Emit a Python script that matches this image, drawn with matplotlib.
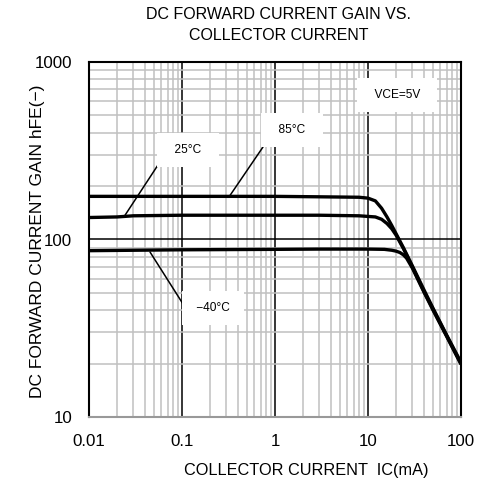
import matplotlib
matplotlib.use("Agg")
import matplotlib.pyplot as plt
from matplotlib.ticker import LogLocator, FixedLocator, NullFormatter, FixedFormatter

plt.rcParams['font.family'] = ['Liberation Sans', 'DejaVu Sans']

# ---- data ----
ic_85 = [0.01, 0.03, 0.1, 0.3, 1, 3, 8, 10, 12, 14, 16, 18, 20, 24, 30, 40, 50, 70, 100]
hfe_85 = [175, 175, 175, 175, 175, 174, 173, 171, 165, 150, 134, 120, 108, 90, 71, 52, 41, 29, 20.3]

ic_25 = [0.01, 0.02, 0.03, 0.1, 0.3, 1, 3, 8, 12, 14, 16, 18, 20, 24, 30, 40, 50, 70, 100]
hfe_25 = [133, 134, 136, 137, 137, 137, 137, 136, 134, 130, 123, 115, 106, 89, 70, 51, 40.5, 28.7, 20]

ic_m40 = [0.01, 0.1, 1, 3, 10, 15, 18, 20, 22, 24, 26, 30, 40, 50, 70, 100]
hfe_m40 = [86.5, 87.5, 88, 88.3, 88.3, 88, 87, 86, 84.5, 82, 78.5, 69, 50.5, 40, 28.5, 19.8]

series_labels = ["85°C", "25°C", "−40°C"]
condition_label = "VCE=5V"

title = "DC FORWARD CURRENT GAIN VS.\nCOLLECTOR CURRENT"
xlabel = "COLLECTOR CURRENT  IC(mA)"
ylabel = "DC FORWARD CURRENT GAIN hFE(−)"

xticks = [0.01, 0.1, 1, 10, 100]
xticklabels = ["0.01", "0.1", "1", "10", "100"]
yticks = [10, 100, 1000]
yticklabels = ["10", "100", "1000"]

# ---- figure ----
fig = plt.figure(figsize=(4.8, 4.9), dpi=100)
ax = fig.add_axes([89/480, 1-417/490, 372/480, 355/490])
ax.set_xscale('log')
ax.set_yscale('log')
ax.set_xlim(0.01, 100)
ax.set_ylim(10, 1000)

ax.xaxis.set_major_locator(FixedLocator(xticks))
ax.xaxis.set_major_formatter(FixedFormatter(xticklabels))
ax.yaxis.set_major_locator(FixedLocator(yticks))
ax.yaxis.set_major_formatter(FixedFormatter(yticklabels))
ax.xaxis.set_minor_locator(LogLocator(base=10, subs=range(2, 10), numticks=20))
ax.yaxis.set_minor_locator(LogLocator(base=10, subs=range(2, 10), numticks=20))
ax.xaxis.set_minor_formatter(NullFormatter())
ax.yaxis.set_minor_formatter(NullFormatter())

ax.grid(which='minor', color='#c0c0c0', lw=1.1, zorder=0)
ax.grid(which='major', color='black', lw=1.1, zorder=0.5)
ax.set_axisbelow(True)
ax.tick_params(which='both', length=0, labelsize=12.2, colors='black')
ax.tick_params(axis='x', pad=12)
ax.tick_params(axis='y', pad=12)

for side in ['left', 'top', 'right']:
    ax.spines[side].set_color('black')
    ax.spines[side].set_linewidth(1.5)
ax.spines['bottom'].set_color('#999999')
ax.spines['bottom'].set_linewidth(1.5)

lw = 2.4
ax.plot(ic_85, hfe_85, color='black', lw=lw, zorder=3, solid_capstyle='butt')
ax.plot(ic_25, hfe_25, color='black', lw=lw, zorder=3, solid_capstyle='butt')
ax.plot(ic_m40, hfe_m40, color='black', lw=lw, zorder=3, solid_capstyle='butt')

box = dict(boxstyle='square,pad=0.9', facecolor='white', edgecolor='none')
fs = 8.6
# leader lines
ax.annotate('', xy=(0.0244, 137), xytext=(0.0552, 263),
            arrowprops=dict(arrowstyle='-', color='black', lw=1.1, shrinkA=0, shrinkB=0), zorder=4)
ax.annotate('', xy=(0.328, 177), xytext=(0.743, 332),
            arrowprops=dict(arrowstyle='-', color='black', lw=1.1, shrinkA=0, shrinkB=0), zorder=4)
ax.annotate('', xy=(0.0453, 85), xytext=(0.1026, 43.3),
            arrowprops=dict(arrowstyle='-', color='black', lw=1.1, shrinkA=0, shrinkB=0), zorder=4)

ax.text(1.52, 414, "  " + series_labels[0] + "  ", fontsize=fs, ha='center', va='center', bbox=box, zorder=5)
ax.text(0.116, 319, "  " + series_labels[1] + "  ", fontsize=fs, ha='center', va='center', bbox=box, zorder=5)
ax.text(0.215, 41, " " + series_labels[2] + " ", fontsize=fs, ha='center', va='center', bbox=box, zorder=5)
ax.text(20.5, 652, "  " + condition_label + "  ", fontsize=fs, ha='center', va='center', bbox=box, zorder=5)

fig.text(279/480, 1-25/490, title, ha='center', va='center', fontsize=11.5, linespacing=1.45)
fig.text(306/480, 1-470/490, xlabel, ha='center', va='center', fontsize=11.7)
fig.text(38/480, 1-241/490, ylabel, ha='center', va='center', rotation=90, fontsize=12.5)

fig.savefig('out.png', dpi=100)
